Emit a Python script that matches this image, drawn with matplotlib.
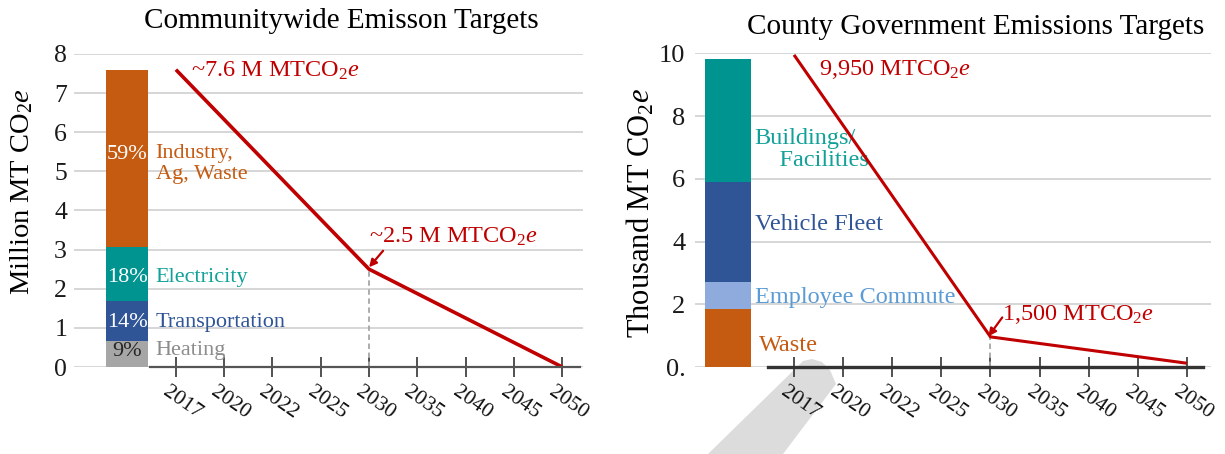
import matplotlib
matplotlib.use('Agg')
import matplotlib.pyplot as plt
from matplotlib.patches import Polygon
from matplotlib.transforms import ScaledTranslation

plt.rcParams['font.family'] = ['Liberation Serif', 'DejaVu Serif']
plt.rcParams['mathtext.fontset'] = 'custom'
plt.rcParams['mathtext.rm'] = 'Liberation Serif'
plt.rcParams['mathtext.it'] = 'Liberation Serif:italic'

# ---------------- data ----------------
years = ['2017', '2020', '2022', '2025', '2030', '2035', '2040', '2045', '2050']

comm_title = 'Communitywide Emisson Targets'
comm_ylabel = r'Million MT CO$_2\mathit{e}$'
comm_sectors = ['Heating', 'Transportation', 'Electricity', 'Industry,\nAg, Waste']
comm_values = [0.67, 1.02, 1.38, 4.53]
comm_pcts = ['9%', '14%', '18%', '59%']
comm_target_years = ['2017', '2030', '2050']
comm_target_vals = [7.6, 2.5, 0.0]
comm_labels = [r'~7.6 M MTCO$_2\mathit{e}$', r'~2.5 M MTCO$_2\mathit{e}$']
comm_yticks = [0, 1, 2, 3, 4, 5, 6, 7, 8]
comm_yticklabels = ['0', '1', '2', '3', '4', '5', '6', '7', '8']

cnty_title = 'County Government Emissions Targets'
cnty_ylabel = r'Thousand MT CO$_2\mathit{e}$'
cnty_sectors = ['Waste', 'Employee Commute', 'Vehicle Fleet', 'Buildings/\n    Facilities']
cnty_values = [1.84, 0.88, 3.19, 3.92]
cnty_target_years = ['2017', '2030', '2050']
cnty_target_vals = [9.95, 0.96, 0.12]
cnty_labels = [r'9,950 MTCO$_2\mathit{e}$', r'1,500 MTCO$_2\mathit{e}$']
cnty_yticks = [0, 2, 4, 6, 8, 10]
cnty_yticklabels = ['0.', '2', '4', '6', '8', '10']

# ---------------- styles ----------------
RED = '#C00000'
comm_bar_colors = ['#A6A6A6', '#2F5597', '#009490', '#C55A11']
comm_text_colors = ['#8C8C8C', '#2F5597', '#12A199', '#C55A11']
comm_pct_colors = ['#262626', 'white', 'white', 'white']
cnty_bar_colors = ['#C55A11', '#8FAADC', '#2F5597', '#009490']
cnty_text_colors = ['#C55A11', '#5B9BD5', '#2F5597', '#12A199']

W, H = 1225, 454
fig = plt.figure(figsize=(W / 100, H / 100), dpi=100)


def px_rect(l, r, top, bottom):
    return [l / W, 1 - bottom / H, (r - l) / W, (bottom - top) / H]


def style_axes(ax, yticks, yticklabels, ysize, ypad, spine_bounds, spine_lw, spine_color):
    ax.set_facecolor('none')
    ax.set_axisbelow(True)
    for s in ['left', 'right', 'top']:
        ax.spines[s].set_visible(False)
    ax.spines['bottom'].set_bounds(*spine_bounds)
    ax.spines['bottom'].set_linewidth(spine_lw)
    ax.spines['bottom'].set_color(spine_color)
    ax.spines['bottom'].set_zorder(5)
    ax.set_yticks(yticks)
    ax.set_yticklabels(yticklabels, fontsize=ysize)
    ax.tick_params(axis='y', length=0, pad=ypad, colors='#1a1a1a')
    ax.yaxis.grid(True, color='#D3D3D3', lw=1.3)
    ax.set_xticks(range(len(years)))
    ax.set_xticklabels(years, fontsize=15.5, rotation=-35, ha='left', va='top',
                       rotation_mode='anchor')
    ax.tick_params(axis='x', direction='inout', length=14, width=1.2,
                   color='#333333', pad=4, labelcolor='#111111')
    off = ScaledTranslation(-6 / 100, 0, fig.dpi_scale_trans)
    for lbl in ax.get_xticklabels():
        lbl.set_transform(lbl.get_transform() + off)


# ---------------- left panel ----------------
axL = fig.add_axes(px_rect(74, 583, 54, 367))
axL.set_xlim(-2.11, 8.43)
axL.set_ylim(0, 8)
style_axes(axL, comm_yticks, comm_yticklabels, 18.5, 5, (-0.54, 8.37), 1.6, '#555555')

bar_x, bar_w = -1.016, 0.87
bottom = 0
mids = []
for v, c in zip(comm_values, comm_bar_colors):
    axL.bar(bar_x, v, bottom=bottom, width=bar_w, color=c, zorder=2)
    mids.append(bottom + v / 2)
    bottom += v
pct_dy = [0.06, -0.03, -0.08, 0.1]
lab_dy = [0.08, -0.03, -0.08, -0.14]
for m, p, pc, s, tc, d1, d2 in zip(mids, comm_pcts, comm_pct_colors, comm_sectors,
                                   comm_text_colors, pct_dy, lab_dy):
    axL.text(bar_x + 0.01, m + d1, p, ha='center', va='center', color=pc,
             fontsize=16, zorder=3)
    axL.text(-0.42, m + d2, s, ha='left', va='center', color=tc, fontsize=16,
             linespacing=1.12, zorder=3)

cx = [years.index(y) for y in comm_target_years]
axL.plot([cx[1], cx[1]], [0, comm_target_vals[1]], ls=(0, (3, 2)), color='#A6A6A6',
         lw=1.3, zorder=3)
axL.plot(cx, comm_target_vals, color=RED, lw=2.6, zorder=4, solid_capstyle='butt')
axL.text(cx[0] + 0.31, comm_target_vals[0] - 0.18, comm_labels[0], color=RED,
         fontsize=17.5, ha='left', va='baseline')
axL.text(cx[1] + 0.0, comm_target_vals[1] + 0.67, comm_labels[1], color=RED,
         fontsize=17.5, ha='left', va='baseline')
axL.annotate('', xy=(cx[1], comm_target_vals[1] + 0.05),
             xytext=(cx[1] + 0.29, comm_target_vals[1] + 0.47),
             arrowprops=dict(arrowstyle='-|>', color=RED, lw=1.6, mutation_scale=11,
                             shrinkA=0, shrinkB=0), zorder=5)

# ---------------- right panel ----------------
axR = fig.add_axes(px_rect(695, 1211, 53.3, 367))
axR.set_xlim(-2.016, 8.49)
axR.set_ylim(0, 10)
style_axes(axR, cnty_yticks, cnty_yticklabels, 19, 7, (-0.53, 8.33), 2.4, '#333333')

bar_x, bar_w = -1.34, 0.94
bottom = 0
mids = []
for v, c in zip(cnty_values, cnty_bar_colors):
    axR.bar(bar_x, v, bottom=bottom, width=bar_w, color=c, zorder=2)
    mids.append(bottom + v / 2)
    bottom += v
lab_x = [-0.71, -0.80, -0.80, -0.80]
lab_dy = [-0.22, -0.08, 0.22, -0.93]
for m, s, tc, lx, d in zip(mids, cnty_sectors, cnty_text_colors, lab_x, lab_dy):
    axR.text(lx, m + d, s, ha='left', va='center', color=tc, fontsize=17.5,
             linespacing=1.08, zorder=3)

rx = [years.index(y) for y in cnty_target_years]
axR.plot([rx[1], rx[1]], [0, cnty_target_vals[1]], ls=(0, (3, 2)), color='#A6A6A6',
         lw=1.3, zorder=3)
axR.plot(rx, cnty_target_vals, color=RED, lw=2.2, zorder=4, solid_capstyle='butt')
axR.text(rx[0] + 0.51, cnty_target_vals[0] - 0.63, cnty_labels[0], color=RED,
         fontsize=17.5, ha='left', va='baseline')
axR.text(rx[1] + 0.24, cnty_target_vals[1] + 0.54, cnty_labels[1], color=RED,
         fontsize=17.5, ha='left', va='baseline')
axR.annotate('', xy=(rx[1] - 0.04, cnty_target_vals[1] + 0.02),
             xytext=(rx[1] + 0.24, cnty_target_vals[1] + 0.62),
             arrowprops=dict(arrowstyle='-|>', color=RED, lw=1.6, mutation_scale=11,
                             shrinkA=0, shrinkB=0), zorder=5)

# ---------------- titles & y labels ----------------
fig.text(341 / W, 1 - 21 / H, comm_title, ha='center', va='center', fontsize=21)
fig.text(976 / W, 1 - 27 / H, cnty_title, ha='center', va='center', fontsize=21)
fig.text(22 / W, 1 - 192 / H, comm_ylabel, rotation=90, ha='center', va='center',
         fontsize=20.5)
fig.text(641 / W, 1 - 213 / H, cnty_ylabel, rotation=90, ha='center', va='center',
         fontsize=22)

# light grey diagonal band (artifact in the reference image)
band = [(796, 368), (803, 361), (812, 359), (822, 362), (830, 370), (836, 384),
        (783, 454), (708, 454)]
fig.patches.append(Polygon([(x / W, 1 - y / H) for x, y in band], closed=True,
                           transform=fig.transFigure, facecolor='#DCDCDC',
                           edgecolor='none', zorder=-1))

fig.savefig('out.png', dpi=100, facecolor='white')
